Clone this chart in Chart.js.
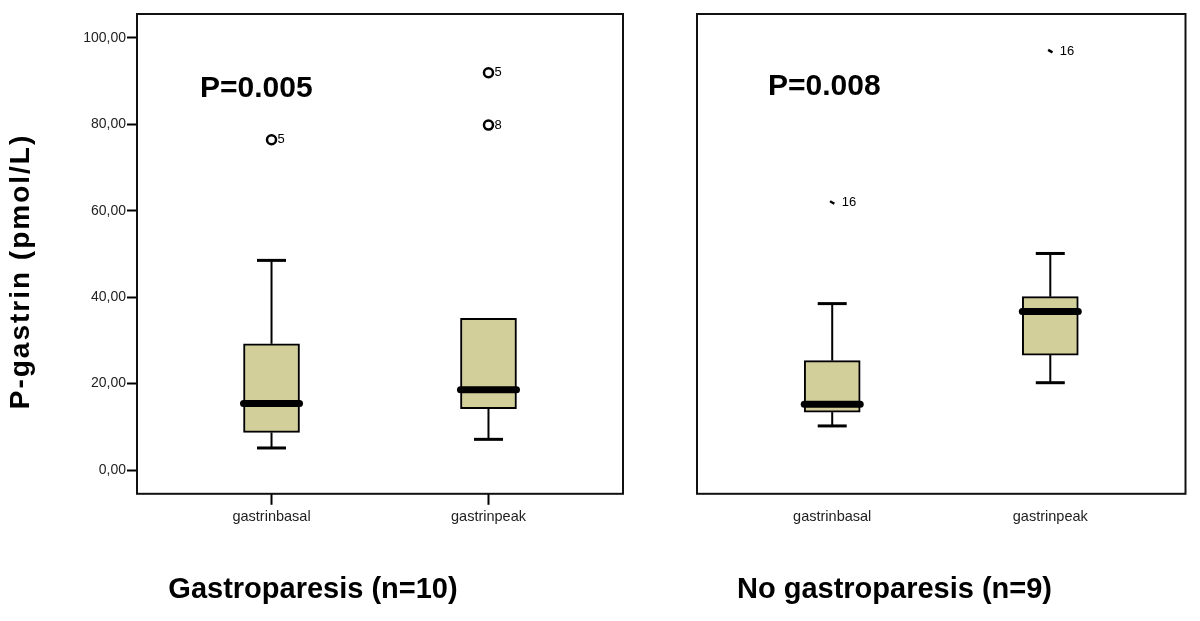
<!DOCTYPE html>
<html>
<head>
<meta charset="utf-8">
<script src="https://cdn.jsdelivr.net/npm/chart.js@4"></script>
<style>
  html, body { margin: 0; padding: 0; background: #fff; }
  body { width: 1200px; height: 621px; position: relative; overflow: hidden; }
  #leftChart { position: absolute; left: 0; top: 0; }
  #rightChart { position: absolute; left: 600px; top: 0; }
</style>
</head>
<body>
<canvas id="leftChart" width="630" height="621"></canvas>
<canvas id="rightChart" width="592" height="621"></canvas>
<script>
// カテゴリと目盛り
const categories = ['gastrinbasal', 'gastrinpeak'];
const yTicks = [0, 20, 40, 60, 80, 100];

// Gastroparesis (n=10)
const gpMin = [5.1, 7.1];
const gpQ1 = [8.7, 14.2];
const gpMedian = [15.4, 18.6];
const gpQ3 = [29.2, 35.1];
const gpMax = [48.5, 35.1];
const gpOutlierCats = [0, 1, 1];
const gpOutlierValues = [76.4, 91.9, 79.8];
const gpOutlierIds = ['5', '5', '8'];

// No gastroparesis (n=9)
const ngMin = [10.2, 20.2];
const ngQ1 = [13.4, 26.6];
const ngMedian = [15.2, 36.7];
const ngQ3 = [25.3, 40.1];
const ngMax = [38.5, 50.1];
const ngOutlierCats = [0, 1];
const ngOutlierIds = ['16', '16'];
const ngOutlierValues = [61.9, 96.9];

const fontFamily = "'Liberation Sans', Arial, Helvetica, sans-serif";
Chart.defaults.font.family = fontFamily;
const boxFill = '#d3cf9b';

// 箱ひげ図のひげ・中央値・ラベル・枠を描くプラグイン
function boxPlotPlugin(cfg) {
    return {
        id: 'boxPlot',
        beforeDatasetsDraw(chart) {
            const {ctx, scales: {x, y}} = chart;
            ctx.save();
            ctx.strokeStyle = '#000';
            cfg.min.forEach((v, i) => {
                const cx = x.getPixelForValue(i);
                [[cfg.q1[i], v], [cfg.q3[i], cfg.max[i]]].forEach(([from, to]) => {
                    if (from === to) return;
                    const y0 = y.getPixelForValue(from);
                    const y1 = y.getPixelForValue(to);
                    ctx.lineWidth = 2;
                    ctx.beginPath(); ctx.moveTo(cx, y0); ctx.lineTo(cx, y1); ctx.stroke();
                    ctx.lineWidth = 3;
                    ctx.beginPath(); ctx.moveTo(cx - 14.5, y1); ctx.lineTo(cx + 14.5, y1); ctx.stroke();
                });
            });
            ctx.restore();
        },
        afterDatasetsDraw(chart) {
            const {ctx, chartArea, scales: {y}} = chart;
            ctx.save();
            // 中央値
            chart.getDatasetMeta(0).data.forEach((bar, i) => {
                const {x: bx, width} = bar.getProps(['x', 'width'], true);
                const my = y.getPixelForValue(cfg.median[i]);
                ctx.strokeStyle = '#000';
                ctx.lineWidth = 7;
                ctx.lineCap = 'round';
                ctx.beginPath(); ctx.moveTo(bx - width / 2, my); ctx.lineTo(bx + width / 2, my); ctx.stroke();
            });
            // 外れ値の番号
            ctx.fillStyle = '#000';
            ctx.font = '13px ' + fontFamily;
            ctx.textBaseline = 'middle';
            ctx.textAlign = 'left';
            chart.getDatasetMeta(1).data.forEach((pt, i) => {
                ctx.fillText(cfg.ids[i], pt.x + cfg.labelDx, pt.y);
            });
            // P値
            ctx.font = 'bold 30px ' + fontFamily;
            ctx.textBaseline = 'alphabetic';
            ctx.fillText(cfg.pText, chartArea.left + cfg.pDx, chartArea.top + cfg.pDy);
            ctx.restore();
        },
        afterDraw(chart) {
            const {ctx, chartArea} = chart;
            ctx.save();
            ctx.strokeStyle = '#111';
            ctx.lineWidth = 2;
            ctx.strokeRect(chartArea.left, chartArea.top, chartArea.right - chartArea.left, chartArea.bottom - chartArea.top);
            if (cfg.yTitle) {
                ctx.translate(21.5, 271.5);
                ctx.rotate(-Math.PI / 2);
                ctx.font = 'bold 28px ' + fontFamily;
                ctx.letterSpacing = '2px';
                ctx.fillStyle = '#000';
                ctx.textAlign = 'center';
                ctx.textBaseline = 'middle';
                ctx.fillText(cfg.yTitle, 0, 0);
            }
            ctx.restore();
        }
    };
}

function xScale(tickColor) {
    return {
        type: 'linear',
        min: -0.62,
        max: 1.62,
        offset: false,
        afterBuildTicks: s => { s.ticks = categories.map((c, i) => ({value: i})); },
        ticks: {
            callback: v => categories[v],
            font: {size: 14.5},
            color: '#222',
            padding: 3,
            maxRotation: 0,
            autoSkip: false
        },
        grid: {offset: false, drawOnChartArea: false, tickLength: 11, tickWidth: 2, tickColor: tickColor},
        border: {display: false}
    };
}

function bottomTitle(text) {
    return {
        display: true,
        position: 'bottom',
        text: text,
        color: '#000',
        font: {size: 29, weight: 'bold'},
        padding: {top: 44.5, bottom: 13.5}
    };
}

function boxDatasets(q1, q3, outCats, outValues, pointOpts) {
    return [{
        type: 'bar',
        data: categories.map((c, i) => ({x: i, y: [q1[i], q3[i]]})),
        backgroundColor: boxFill,
        borderColor: '#000',
        borderWidth: 2,
        borderSkipped: false,
        barThickness: 56
    }, Object.assign({
        type: 'scatter',
        data: outValues.map((v, i) => ({x: outCats[i], y: v})),
        pointBorderColor: '#000'
    }, pointOpts)];
}

// 左：Gastroparesis
new Chart(document.getElementById('leftChart'), {
    type: 'bar',
    data: {
        datasets: boxDatasets(gpQ1, gpQ3, gpOutlierCats, gpOutlierValues, {
            pointStyle: 'circle', pointRadius: 4.5, pointBorderWidth: 2.5, pointBackgroundColor: '#fff'
        })
    },
    options: {
        responsive: false,
        animation: false,
        layout: {padding: {top: 14, right: 4, left: 0, bottom: 0}},
        scales: {
            x: xScale('#000'),
            y: {
                min: -5.5,
                max: 105.5,
                afterBuildTicks: s => { s.ticks = yTicks.map(v => ({value: v})); },
                afterFit: s => { s.width = 137; },
                ticks: {
                    callback: v => v.toFixed(2).replace('.', ','),
                    font: {size: 14},
                    color: '#222',
                    padding: 1
                },
                grid: {drawOnChartArea: false, tickLength: 10, tickWidth: 2, tickColor: '#000'},
                border: {display: false}
            }
        },
        plugins: {
            legend: {display: false},
            tooltip: {enabled: false},
            title: bottomTitle('Gastroparesis (n=10)')
        }
    },
    plugins: [boxPlotPlugin({
        min: gpMin, q1: gpQ1, median: gpMedian, q3: gpQ3, max: gpMax,
        ids: gpOutlierIds, labelDx: 6,
        pText: 'P=0.005', pDx: 63, pDy: 82.7,
        yTitle: 'P-gastrin (pmol/L)'
    })]
});

// 右：No gastroparesis
new Chart(document.getElementById('rightChart'), {
    type: 'bar',
    data: {
        datasets: boxDatasets(ngQ1, ngQ3, ngOutlierCats, ngOutlierValues, {
            pointStyle: 'line', pointRadius: 2.5, pointRotation: 30, pointBorderWidth: 2.5
        })
    },
    options: {
        responsive: false,
        animation: false,
        layout: {padding: {top: 14, right: 3, left: 0, bottom: 0}},
        scales: {
            x: xScale('rgba(0,0,0,0)'),
            y: {
                min: -5.5,
                max: 105.5,
                afterFit: s => { s.width = 97; },
                ticks: {display: false},
                grid: {display: false},
                border: {display: false}
            }
        },
        plugins: {
            legend: {display: false},
            tooltip: {enabled: false},
            title: bottomTitle('No gastroparesis (n=9)')
        }
    },
    plugins: [boxPlotPlugin({
        min: ngMin, q1: ngQ1, median: ngMedian, q3: ngQ3, max: ngMax,
        ids: ngOutlierIds, labelDx: 9.5,
        pText: 'P=0.008', pDx: 71, pDy: 81
    })]
});
</script>
</body>
</html>
